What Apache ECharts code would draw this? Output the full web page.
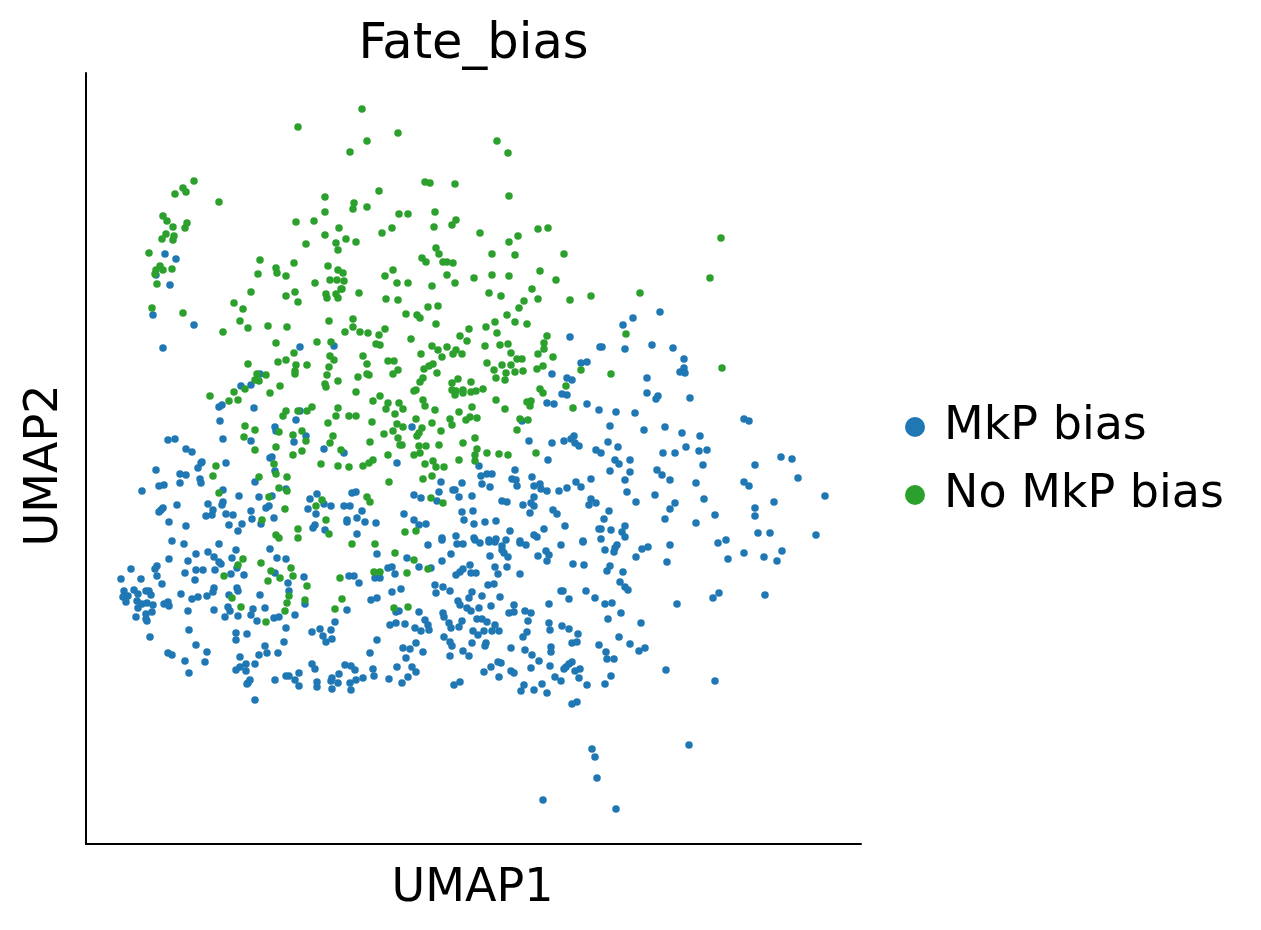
<!DOCTYPE html>
<html>
<head>
<meta charset="utf-8">
<title>Fate_bias</title>
<script src="https://cdn.jsdelivr.net/npm/echarts@6/dist/echarts.min.js"></script>
<style>html,body{margin:0;padding:0;background:#fff}#chart{width:1261px;height:930px}</style>
</head>
<body>
<div id="chart"></div>
<script>
// Embedding positions per cell; the axes carry arbitrary UMAP units with UMAP2 running downward.
const seriesNames = ['MkP bias', 'No MkP bias'];
const noMkpBias = [
[298,127],[194,181],[183,188],[186,192],[175,194],[219,202],[325,197],[325,212],[314,221],[296,222],[339,228],[325,235],[336,243],[306,244],[338,250],[163,216],[167,221],[187,223],[185,228],[173,227],[166,234],[174,236],[173,240],[162,239],[149,253],[160,266],[156,270],[155,274],[163,270],[172,269],[157,284],[152,308],[183,313],[260,260],[294,263],[276,268],[277,273],[258,274],[286,276],[328,266],[338,270],[330,280],[337,280],[315,283],[341,289],[251,292],[295,292],[286,296],[326,294],[327,298],[336,294],[338,298],[298,302],[234,303],[243,309],[240,321],[248,328],[268,326],[287,327],[329,321],[223,332],
[362,109],[398,133],[367,141],[350,152],[497,141],[508,153],[425,182],[430,183],[455,184],[509,196],[379,191],[354,203],[353,209],[367,207],[399,214],[408,214],[435,212],[456,220],[452,225],[434,227],[392,228],[382,233],[346,239],[356,242],[480,233],[538,229],[548,228],[518,236],[509,242],[492,254],[515,255],[564,254],[436,248],[439,254],[422,258],[426,262],[443,262],[447,262],[453,263],[393,270],[385,276],[343,273],[344,281],[342,289],[397,283],[408,283],[447,275],[432,286],[455,283],[474,278],[492,275],[509,276],[540,271],[556,280],[532,289],[489,293],[501,296],[524,301],[538,299],[519,308],[359,293],[386,299],[398,300],[438,306],[428,307],[406,314],[417,315],[420,318],[436,324],[353,319],[353,327],[360,332],[368,333],[345,332],[379,335],[385,329],[411,339],[469,329],[460,336],[486,327],[495,322],[497,333],[507,315],[515,322],[527,324],[547,336],[591,296],[570,300],
[721,238],[710,278],[640,293],[626,334],[611,374],[722,368],
[276,343],[317,342],[331,342],[294,353],[286,360],[278,362],[248,364],[296,365],[307,365],[295,371],[295,374],[266,375],[257,374],[255,380],[259,381],[280,386],[245,389],[234,392],[270,393],[210,396],[229,401],[238,400],[330,356],[334,360],[329,367],[327,375],[338,381],[325,384],[326,387],[356,392],[358,377],[367,364],[363,356],[376,344],[380,345],[388,361],[394,361],[398,370],[393,374],[367,374],[369,375],[380,396],[373,401],[388,403],[386,409],[399,403],[395,414],[372,422],[397,424],[384,434],[393,431],[398,438],[370,442],[400,445],[338,408],[336,416],[349,416],[356,416],[328,423],[312,407],[307,411],[298,411],[286,411],[283,416],[245,426],[255,430],[244,437],[279,432],[302,431],[293,435],[306,441],[333,436],[330,443],[255,450],[276,447],[293,455],[302,451],[341,450],[388,455],[373,460],[369,463],[363,466],[349,467],[338,466],[321,464],[274,464],[276,474],[259,477],[287,477],[216,466],[213,476],[389,482],[279,488],[287,491],[219,493],[269,497],[322,500],[316,506],[367,497],[370,502],[285,509],[262,520],[326,520],[298,529],[276,535],[279,538],[298,538],[329,534],
[432,346],[438,350],[447,347],[456,350],[453,354],[462,354],[467,341],[442,357],[421,354],[485,346],[500,345],[508,344],[511,353],[544,343],[544,349],[538,354],[553,357],[517,359],[522,359],[487,363],[502,365],[511,365],[433,364],[429,366],[424,369],[437,373],[494,370],[515,372],[523,371],[506,373],[496,378],[505,380],[537,369],[543,366],[581,370],[423,378],[420,382],[452,383],[458,379],[471,382],[416,390],[414,391],[452,390],[456,391],[455,395],[463,390],[463,393],[471,392],[476,391],[483,389],[566,386],[540,389],[543,393],[496,400],[423,400],[425,406],[403,409],[435,410],[459,412],[472,407],[505,409],[527,402],[531,401],[530,406],[573,408],[416,419],[432,423],[450,419],[452,425],[466,420],[470,417],[477,418],[520,419],[528,420],[403,427],[422,428],[441,431],[419,433],[417,436],[517,430],[475,438],[463,443],[402,445],[419,446],[426,446],[439,445],[477,449],[487,453],[475,455],[499,454],[508,455],[536,453],[420,453],[414,455],[475,461],[459,460],[433,461],[425,464],[436,467],[444,467],[432,476],[423,479],[431,498],[443,503],[405,532],[416,531],
[243,559],[261,563],[238,565],[271,571],[291,568],[224,576],[293,576],[280,578],[268,581],[289,596],[232,598],[241,607],[287,603],[285,611],[266,622],
[352,544],[375,544],[395,553],[414,560],[428,569],[374,572],[380,572],[407,573],[340,578],[307,586],[342,599],[305,600],[335,609],[394,608],[408,607]
];
const mkpBias = [
[165,254],[176,259],[156,275],[170,285],[153,315],[194,325],[163,348],[570,337],
[660,312],[633,318],[623,325],[602,347],[625,349],[652,345],[673,348],[684,359],[684,368],[680,372],[685,373],[647,378],[647,393],[658,396],[656,399],[690,398],[599,410],[616,412],[635,413],[610,426],[744,419],[749,421],[644,430],[665,427],[682,433],[700,436],[608,442],[618,447],[596,450],[601,453],[663,453],[675,453],[686,447],[699,451],[707,450],[615,460],[619,464],[630,460],[703,465],[755,465],[781,457],[792,459],
[610,471],[630,472],[625,480],[657,470],[662,475],[670,480],[696,483],[744,482],[749,486],[798,478],[825,496],[627,492],[655,495],[636,502],[675,503],[670,509],[704,499],[774,502],[755,508],[755,516],[715,515],[665,519],[696,523],[609,511],[604,519],[625,526],[601,529],[611,530],[622,532],[625,537],[601,539],[758,533],[770,533],[816,535],[726,540],[718,543],[670,545],[648,547],[642,549],[617,545],[615,548],[614,552],[605,550],[744,553],[782,551],[636,557],[728,559],[764,557],[777,561],[667,562],[610,566],[607,571],[623,572],[620,582],[625,587],[628,590],[719,593],[713,598],[765,595],[605,604],[612,603],[677,604],[621,613],[608,619],[641,623],[619,637],[630,644],[645,648],[639,651],[599,645],[606,652],[607,659],[614,659],[666,670],[611,676],[605,684],[715,681],
[592,749],[595,757],[597,778],[543,800],[616,809],[689,745],
[300,347],[334,346],[260,374],[241,386],[251,385],[222,405],[219,407],[254,408],[220,421],[223,439],[251,441],[275,427],[276,431],[296,420],[300,411],[306,436],[294,442],[324,449],[344,453],[397,463],[270,458],[272,457],[226,463],[202,462],[275,471],[255,482],[223,490],[201,483],[200,479],[259,497],[239,496],[272,496],[286,489],[310,499],[317,494],[352,493],[356,492],[324,504],[331,506],[344,506],[350,506],[308,509],[316,514],[362,511],[357,518],[347,520],[347,522],[365,522],[376,523],[208,504],[223,502],[222,505],[213,510],[206,516],[212,515],[226,514],[233,515],[251,511],[266,508],[269,506],[274,518],[252,519],[261,524],[242,524],[229,525],[238,531],[315,525],[313,528],[325,530],[357,534],
[600,347],[581,363],[587,362],[552,374],[567,378],[572,380],[562,394],[567,395],[547,403],[554,404],[587,404],[522,421],[412,427],[529,441],[552,443],[564,441],[574,436],[571,439],[575,443],[579,446],[548,460],[479,466],[515,470],[481,476],[487,474],[492,474],[512,479],[516,480],[517,486],[532,477],[534,486],[540,484],[541,489],[547,491],[559,491],[567,488],[576,482],[581,487],[591,479],[441,482],[462,483],[482,484],[490,487],[453,490],[455,490],[439,492],[459,497],[472,496],[414,495],[421,498],[437,501],[534,497],[531,503],[534,506],[523,505],[502,501],[507,502],[591,499],[589,505],[596,503],[553,510],[557,514],[530,513],[462,512],[473,511],[404,514],[414,520],[419,525],[426,524],[464,520],[474,524],[485,522],[496,521],[565,526],[544,529],[510,531],[456,536],[442,538],[534,535],[537,537],[599,529],[474,538],[489,540],[496,539],[506,540],[520,541],[583,541],
[168,440],[175,439],[186,449],[192,452],[201,463],[198,468],[156,470],[180,474],[186,475],[180,483],[164,485],[159,486],[142,491],[177,505],[163,508],[161,510],[159,512],[169,522],[186,526],[172,541],[184,544],
[219,544],[236,550],[270,549],[196,554],[208,552],[214,557],[232,558],[277,558],[286,559],[169,559],[188,561],[219,562],[221,564],[157,566],[155,569],[131,569],[185,573],[196,570],[203,570],[215,570],[237,568],[231,574],[244,575],[275,573],[157,576],[121,579],[141,579],[195,580],[162,584],[288,583],[289,591],[124,591],[134,590],[138,594],[146,591],[149,591],[151,595],[128,596],[123,597],[126,602],[137,601],[181,594],[214,588],[213,592],[207,596],[198,597],[192,599],[237,588],[238,591],[229,595],[260,595],[142,604],[147,603],[153,605],[138,608],[164,604],[168,602],[169,606],[152,612],[146,614],[136,617],[146,619],[147,621],[188,611],[214,610],[228,607],[230,611],[225,617],[238,616],[253,609],[251,615],[265,608],[257,621],[274,618],[279,617],[295,615],[189,630],[150,637],[236,633],[236,640],[247,634],[286,628],[284,642],[196,645],[265,646],[207,652],[168,653],[172,655],[267,653],[278,653],[259,655],[240,657],[185,661],[205,662],[246,664],[255,664],[240,667],[236,670],[189,673],[246,671],[286,676],[289,676],[299,673],[275,680],[295,680],[299,686],[250,680],[248,683],[247,684],[255,700],
[428,545],[442,540],[457,544],[463,544],[475,540],[480,543],[489,542],[495,542],[377,554],[407,558],[451,554],[490,556],[442,561],[419,567],[388,568],[392,567],[431,568],[470,565],[495,567],[463,569],[460,572],[456,575],[471,573],[476,573],[498,574],[395,574],[349,576],[354,576],[304,577],[375,578],[380,578],[359,583],[435,585],[443,587],[450,591],[488,585],[494,584],[401,589],[392,592],[436,593],[472,592],[469,598],[482,596],[500,597],[377,598],[371,600],[458,601],[460,605],[491,606],[467,608],[471,611],[479,608],[347,610],[305,604],[399,611],[396,612],[419,612],[443,613],[444,617],[425,620],[477,619],[482,619],[487,622],[495,625],[462,621],[449,623],[451,628],[459,627],[335,622],[396,623],[390,625],[405,624],[415,628],[421,631],[428,625],[429,630],[320,629],[312,632],[331,630],[323,636],[332,639],[326,642],[473,631],[484,631],[492,631],[499,631],[478,635],[444,637],[377,640],[450,642],[452,646],[472,643],[486,643],[485,646],[416,643],[403,648],[410,649],[423,652],[370,653],[463,651],[469,656],[450,656],[406,658],[312,664],[315,669],[345,665],[351,666],[355,670],[373,669],[374,676],[397,667],[412,667],[416,672],[498,662],[491,667],[484,672],[339,674],[332,678],[331,681],[317,682],[338,683],[350,683],[356,680],[363,678],[389,679],[408,677],[402,683],[460,682],[454,685],[499,677],[317,687],[332,689],[351,690],
[520,543],[526,545],[561,545],[583,542],[502,546],[502,550],[508,557],[504,553],[538,556],[546,551],[549,555],[547,561],[507,567],[520,574],[573,564],[584,565],[586,591],[561,591],[563,591],[569,599],[595,598],[549,604],[514,605],[514,612],[509,613],[525,611],[531,613],[528,621],[549,623],[550,630],[562,626],[569,629],[578,634],[527,632],[523,637],[572,643],[577,642],[511,648],[525,650],[532,655],[539,661],[551,647],[551,652],[550,666],[501,663],[531,668],[511,671],[514,673],[572,662],[569,664],[566,667],[564,669],[580,669],[575,671],[579,678],[555,677],[561,681],[587,685],[524,685],[521,691],[542,684],[534,690],[547,693],[577,702],[572,704]
];

const fontFamily = '"DejaVu Sans"';
const spine = { show: true, onZero: false, lineStyle: { color: '#000', width: 2 } };

const chart = echarts.init(document.getElementById('chart'), null, { renderer: 'canvas' });
chart.setOption({
  animation: false,
  backgroundColor: '#fff',
  title: {
    text: 'Fate_bias', left: 468.5, top: 15, textAlign: 'center',
    textStyle: { fontFamily, fontSize: 49.5, fontWeight: 'normal', color: '#000' }
  },
  grid: { left: 86, top: 73, width: 775, height: 771, outerBoundsMode: 'none' },
  xAxis: {
    type: 'value', min: 86, max: 861, name: 'UMAP1', nameLocation: 'middle', nameGap: 22,
    nameTextStyle: { fontFamily, fontSize: 46, color: '#000', padding: [0, 2, 0, 0] },
    axisLine: spine, axisTick: { show: false }, axisLabel: { show: false }, splitLine: { show: false }
  },
  yAxis: {
    type: 'value', inverse: true, min: 73, max: 844, name: 'UMAP2', nameLocation: 'middle', nameGap: 18,
    nameTextStyle: { fontFamily, fontSize: 46, color: '#000', padding: [0, 14, 0, 0] },
    axisLine: spine, axisTick: { show: false }, axisLabel: { show: false }, splitLine: { show: false }
  },
  legend: {
    orient: 'vertical', left: 900, top: 399, icon: 'circle', itemWidth: 20, itemHeight: 20, itemGap: 22,
    data: seriesNames,
    textStyle: { fontFamily, fontSize: 46, color: '#000', padding: [0, 0, 0, 14] }
  },
  series: [
    { name: seriesNames[0], type: 'scatter', data: mkpBias, symbolSize: 7.5, itemStyle: { color: '#1f77b4', opacity: 1 } },
    { name: seriesNames[1], type: 'scatter', data: noMkpBias, symbolSize: 7.5, itemStyle: { color: '#2ca02c', opacity: 1 } }
  ]
});
</script>
</body>
</html>
